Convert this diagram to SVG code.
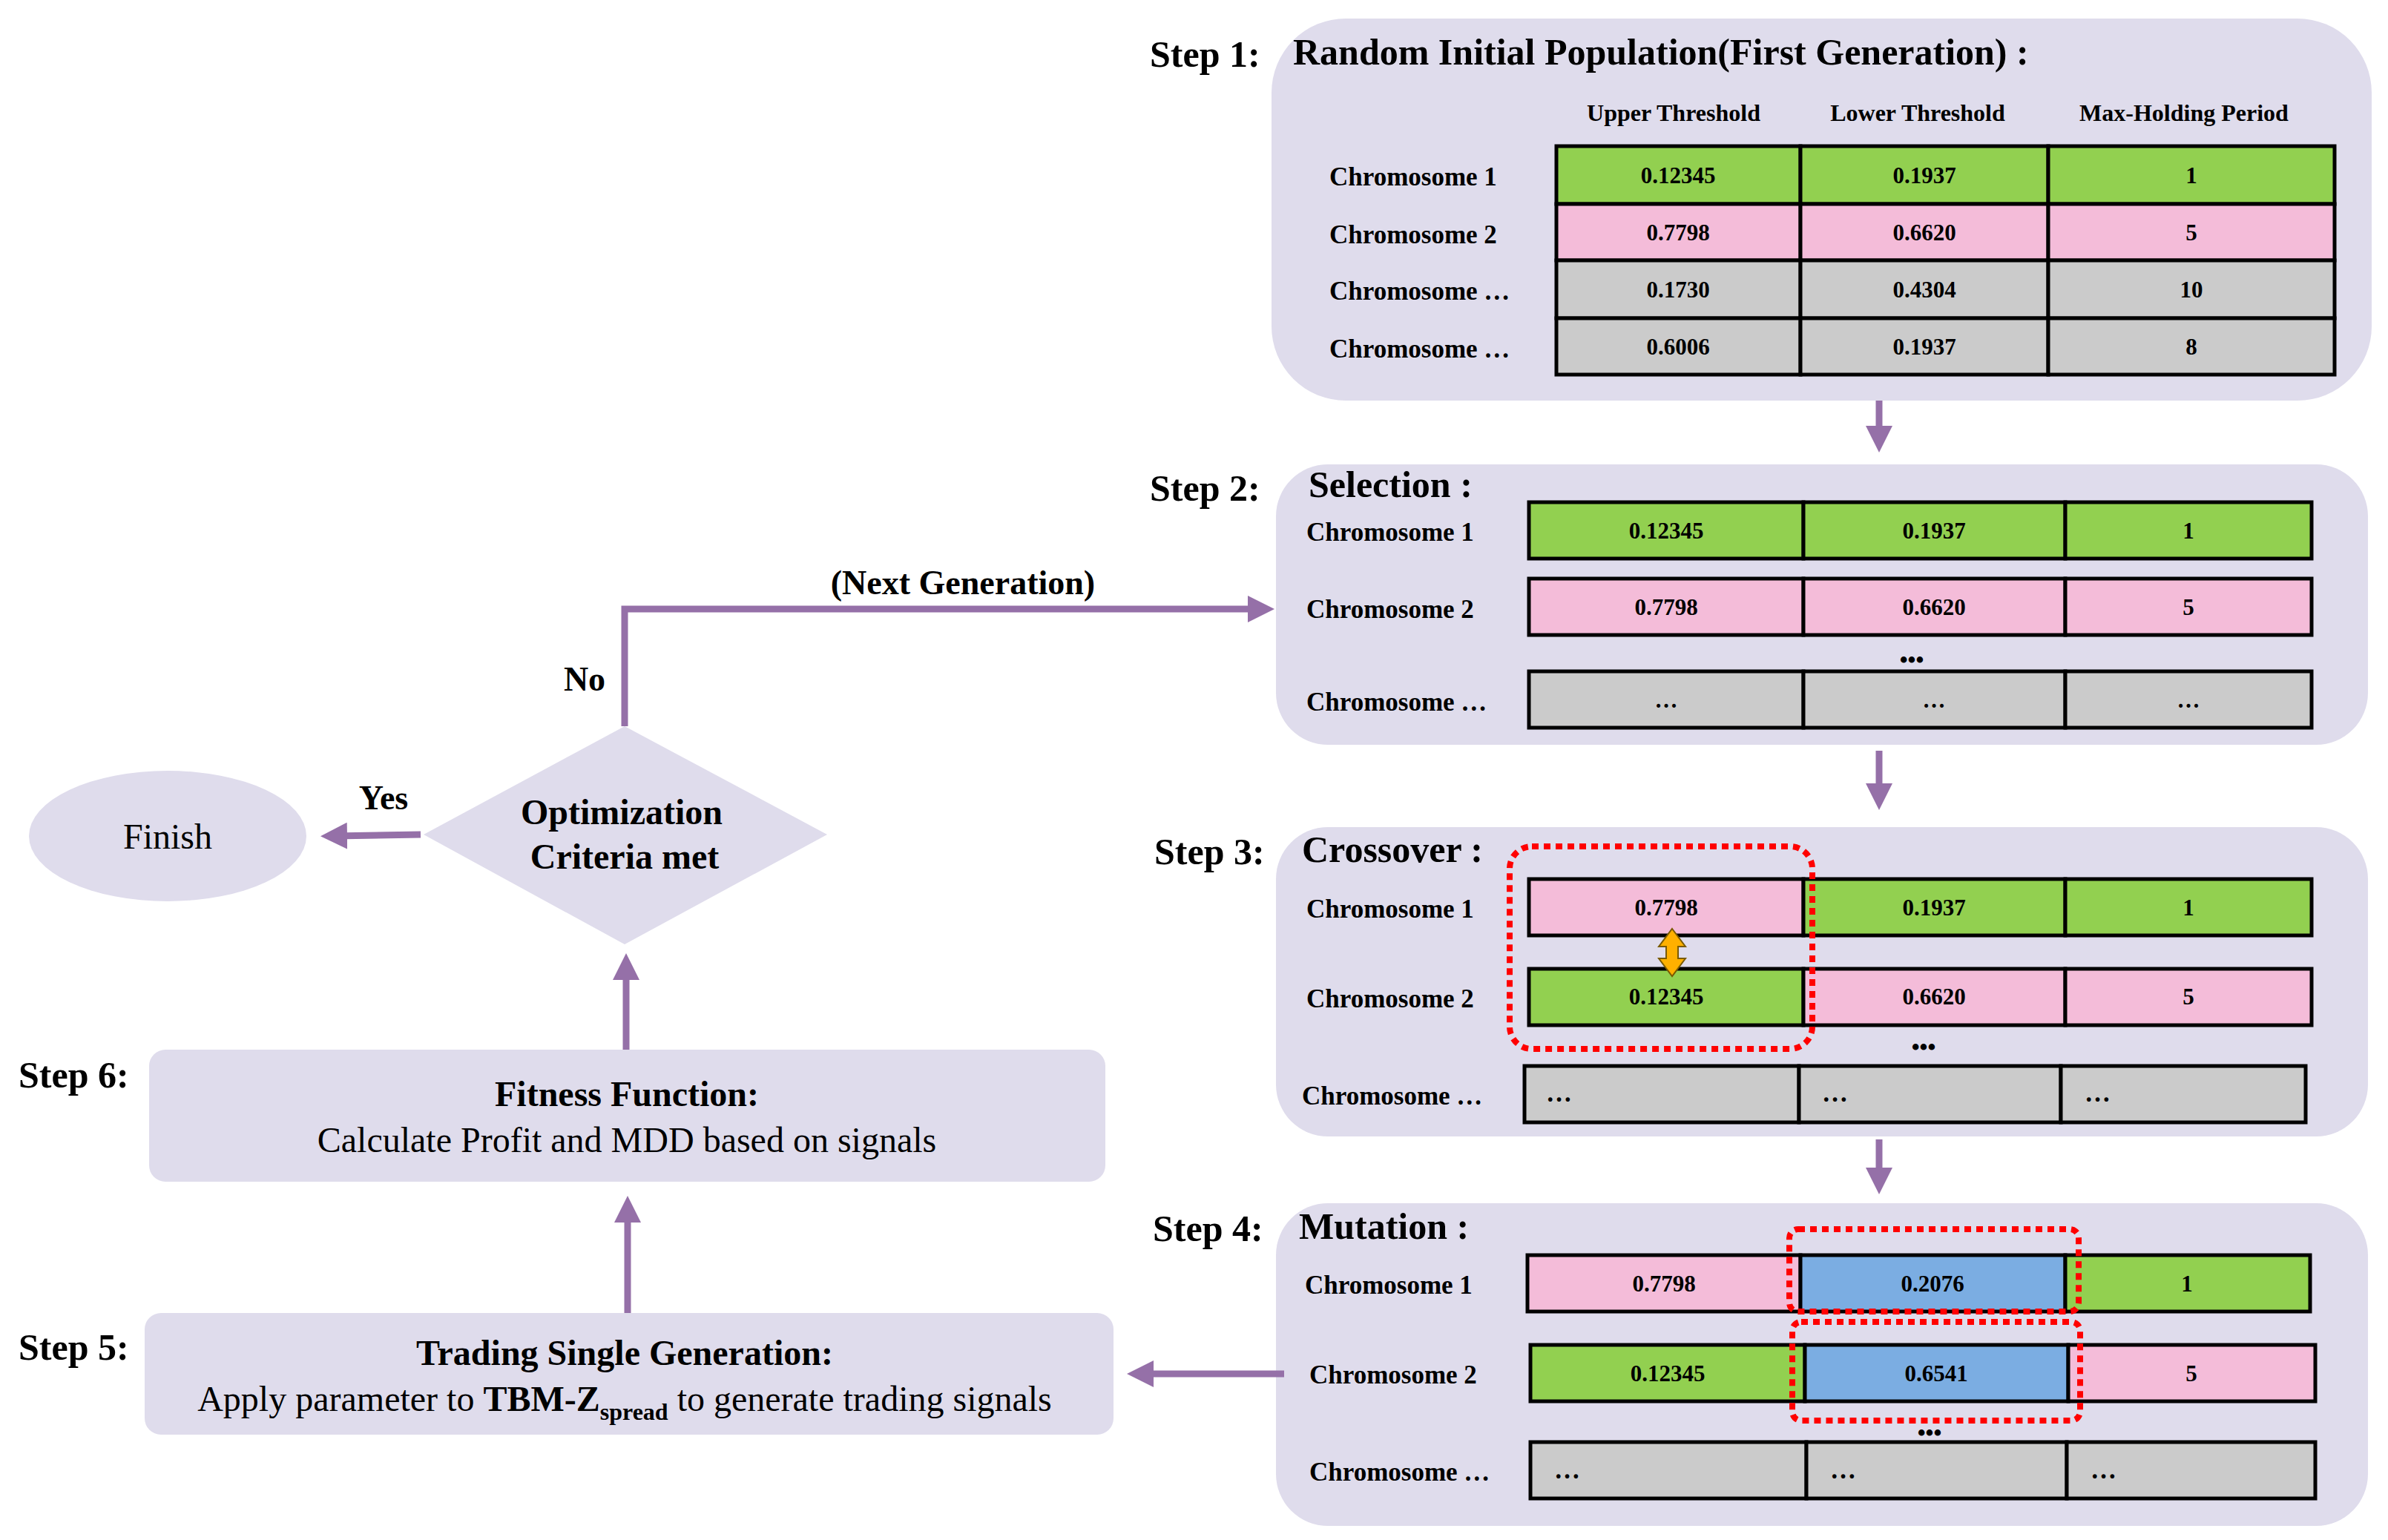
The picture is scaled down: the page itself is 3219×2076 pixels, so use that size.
<svg xmlns="http://www.w3.org/2000/svg" width="3219" height="2076" viewBox="0 0 3219 2076">
<style>
text{font-family:"Liberation Serif","Times New Roman",serif;fill:#000}
.b{font-weight:bold}
.step{font-size:50px;font-weight:bold}
.lab{font-size:35px;font-weight:bold}
.hdr{font-size:32px;font-weight:bold;text-anchor:middle}
.val{font-size:31px;font-weight:bold;text-anchor:middle}
.panel{fill:#dfdcec}
.g{fill:#92d050;stroke:#000;stroke-width:5}
.p{fill:#f4bcd9;stroke:#000;stroke-width:5}
.y{fill:#cbcbcb;stroke:#000;stroke-width:5}
.u{fill:#7badE2;stroke:#000;stroke-width:5}
.red{fill:none;stroke:#ff0000;stroke-width:8;stroke-dasharray:9 7}
.conn{fill:none;stroke:#9570a8;stroke-width:9}
.big{font-size:48px;text-anchor:middle}
</style>
<defs>
<marker id="ah" markerWidth="4" markerHeight="4" refX="2" refY="2" orient="auto" markerUnits="strokeWidth"><path d="M0,0 L4,2 L0,4 Z" fill="#9570a8"/></marker>
</defs>

<g id="step1">
<rect class="panel" x="1714" y="25" width="1483" height="515" rx="100"/>
<text class="step" x="1550" y="90">Step 1:</text>
<text class="step" x="1743" y="87" font-size="48">Random Initial Population(First Generation) :</text>
<text class="hdr" x="2256" y="163">Upper Threshold</text>
<text class="hdr" x="2585" y="163">Lower Threshold</text>
<text class="hdr" x="2944" y="163">Max-Holding Period</text>
<rect class="g" x="2098" y="197" width="329" height="78"/><rect class="g" x="2427" y="197" width="334" height="78"/><rect class="g" x="2761" y="197" width="386" height="78"/>
<rect class="p" x="2098" y="275" width="329" height="76"/><rect class="p" x="2427" y="275" width="334" height="76"/><rect class="p" x="2761" y="275" width="386" height="76"/>
<rect class="y" x="2098" y="351" width="329" height="78"/><rect class="y" x="2427" y="351" width="334" height="78"/><rect class="y" x="2761" y="351" width="386" height="78"/>
<rect class="y" x="2098" y="429" width="329" height="76"/><rect class="y" x="2427" y="429" width="334" height="76"/><rect class="y" x="2761" y="429" width="386" height="76"/>
<text class="lab" x="1792" y="250">Chromosome 1</text>
<text class="lab" x="1792" y="328">Chromosome 2</text>
<text class="lab" x="1792" y="404">Chromosome …</text>
<text class="lab" x="1792" y="482">Chromosome …</text>
<text class="val" x="2262" y="247">0.12345</text><text class="val" x="2594" y="247">0.1937</text><text class="val" x="2954" y="247">1</text>
<text class="val" x="2262" y="324">0.7798</text><text class="val" x="2594" y="324">0.6620</text><text class="val" x="2954" y="324">5</text>
<text class="val" x="2262" y="401">0.1730</text><text class="val" x="2594" y="401">0.4304</text><text class="val" x="2954" y="401">10</text>
<text class="val" x="2262" y="478">0.6006</text><text class="val" x="2594" y="478">0.1937</text><text class="val" x="2954" y="478">8</text>
</g>

<g id="step2">
<rect class="panel" x="1720" y="626" width="1472" height="378" rx="70"/>
<text class="step" x="1550" y="675">Step 2:</text>
<text class="step" x="1764" y="670" font-size="48">Selection :</text>
<rect class="g" x="2061" y="677" width="370" height="76"/><rect class="g" x="2431" y="677" width="353" height="76"/><rect class="g" x="2784" y="677" width="332" height="76"/>
<rect class="p" x="2061" y="780" width="370" height="76"/><rect class="p" x="2431" y="780" width="353" height="76"/><rect class="p" x="2784" y="780" width="332" height="76"/>
<rect class="y" x="2061" y="905" width="370" height="76"/><rect class="y" x="2431" y="905" width="353" height="76"/><rect class="y" x="2784" y="905" width="332" height="76"/>
<text class="lab" x="1761" y="729">Chromosome 1</text>
<text class="lab" x="1761" y="833">Chromosome 2</text>
<text class="lab" x="1761" y="958">Chromosome …</text>
<text class="val" x="2246" y="726">0.12345</text><text class="val" x="2607" y="726">0.1937</text><text class="val" x="2950" y="726">1</text>
<text class="val" x="2246" y="829">0.7798</text><text class="val" x="2607" y="829">0.6620</text><text class="val" x="2950" y="829">5</text>
<text class="val" x="2246" y="954">…</text><text class="val" x="2607" y="954">…</text><text class="val" x="2950" y="954">…</text>
<text class="val" x="2577" y="900" font-size="44">•••</text>
</g>

<g id="step3">
<rect class="panel" x="1720" y="1115" width="1472" height="417" rx="70"/>
<text class="step" x="1556" y="1165">Step 3:</text>
<text class="step" x="1755" y="1162" font-size="48">Crossover :</text>
<rect class="p" x="2061" y="1185" width="370" height="76"/><rect class="g" x="2431" y="1185" width="353" height="76"/><rect class="g" x="2784" y="1185" width="332" height="76"/>
<rect class="g" x="2061" y="1306" width="370" height="76"/><rect class="p" x="2431" y="1306" width="353" height="76"/><rect class="p" x="2784" y="1306" width="332" height="76"/>
<rect class="y" x="2055" y="1437" width="370" height="76"/><rect class="y" x="2425" y="1437" width="353" height="76"/><rect class="y" x="2778" y="1437" width="330" height="76"/>
<text class="lab" x="1761" y="1237">Chromosome 1</text>
<text class="lab" x="1761" y="1358">Chromosome 2</text>
<text class="lab" x="1755" y="1489">Chromosome …</text>
<text class="val" x="2246" y="1234">0.7798</text><text class="val" x="2607" y="1234">0.1937</text><text class="val" x="2950" y="1234">1</text>
<text class="val" x="2246" y="1354">0.12345</text><text class="val" x="2607" y="1354">0.6620</text><text class="val" x="2950" y="1354">5</text>
<text class="lab" x="2084" y="1485">…</text><text class="lab" x="2456" y="1485">…</text><text class="lab" x="2810" y="1485">…</text>
<text class="val" x="2593" y="1422" font-size="44">•••</text>
<rect class="red" x="2035" y="1141" width="408" height="273" rx="30"/>
<path d="M2254,1252 L2272,1276 L2262,1276 L2262,1292 L2272,1292 L2254,1316 L2236,1292 L2246,1292 L2246,1276 L2236,1276 Z" fill="#ffb000" stroke="#7a5a00" stroke-width="2"/>
</g>

<g id="step4">
<rect class="panel" x="1720" y="1622" width="1472" height="435" rx="70"/>
<text class="step" x="1554" y="1673">Step 4:</text>
<text class="step" x="1751" y="1670" font-size="48">Mutation :</text>
<rect class="p" x="2059" y="1692" width="368" height="76"/><rect class="u" x="2427" y="1692" width="357" height="76"/><rect class="g" x="2784" y="1692" width="330" height="76"/>
<rect class="g" x="2063" y="1813" width="370" height="76"/><rect class="u" x="2433" y="1813" width="355" height="76"/><rect class="p" x="2788" y="1813" width="333" height="76"/>
<rect class="y" x="2063" y="1944" width="372" height="76"/><rect class="y" x="2435" y="1944" width="351" height="76"/><rect class="y" x="2786" y="1944" width="335" height="76"/>
<text class="lab" x="1759" y="1744">Chromosome 1</text>
<text class="lab" x="1765" y="1865">Chromosome 2</text>
<text class="lab" x="1765" y="1996">Chromosome …</text>
<text class="val" x="2243" y="1741">0.7798</text><text class="val" x="2605" y="1741">0.2076</text><text class="val" x="2948" y="1741">1</text>
<text class="val" x="2248" y="1862">0.12345</text><text class="val" x="2610" y="1862">0.6541</text><text class="val" x="2954" y="1862">5</text>
<text class="lab" x="2095" y="1993">…</text><text class="lab" x="2467" y="1993">…</text><text class="lab" x="2818" y="1993">…</text>
<text class="val" x="2601" y="1942" font-size="44">•••</text>
<rect class="red" x="2412" y="1657" width="390" height="111" rx="12"/>
<rect class="red" x="2416" y="1782" width="388" height="133" rx="12"/>
</g>

<g id="step5">
<rect class="panel" x="195" y="1770" width="1306" height="164" rx="22"/>
<text class="step" x="25" y="1833">Step 5:</text>
<text class="big b" x="842" y="1840">Trading Single Generation:</text>
<text class="big" x="842" y="1902">Apply parameter to <tspan class="b">TBM-Z</tspan><tspan class="b" font-size="32" dy="12">spread</tspan><tspan dy="-12"> to generate trading signals</tspan></text>
</g>

<g id="step6">
<rect class="panel" x="201" y="1415" width="1289" height="178" rx="22"/>
<text class="step" x="25" y="1466">Step 6:</text>
<text class="big b" x="845" y="1491">Fitness Function:</text>
<text class="big" x="845" y="1553">Calculate Profit and MDD based on signals</text>
</g>

<g id="decision">
<polygon class="panel" points="842,979 1115,1125 842,1273 571,1125"/>
<text class="big b" x="838" y="1111">Optimization</text>
<text class="big b" x="842" y="1171">Criteria met</text>
</g>

<g id="finish">
<ellipse class="panel" cx="226" cy="1127" rx="187" ry="88"/>
<text class="big" x="226" y="1144">Finish</text>
</g>

<g id="connectors">
<line class="conn" x1="2533" y1="540" x2="2533" y2="592" marker-end="url(#ah)"/>
<line class="conn" x1="2533" y1="1012" x2="2533" y2="1074" marker-end="url(#ah)"/>
<line class="conn" x1="2533" y1="1536" x2="2533" y2="1592" marker-end="url(#ah)"/>
<line class="conn" x1="1731" y1="1852" x2="1537" y2="1852" marker-end="url(#ah)"/>
<line class="conn" x1="846" y1="1770" x2="846" y2="1630" marker-end="url(#ah)"/>
<line class="conn" x1="844" y1="1415" x2="844" y2="1303" marker-end="url(#ah)"/>
<line class="conn" x1="567" y1="1125" x2="450" y2="1127" marker-end="url(#ah)"/>
<polyline class="conn" points="842,979 842,821 1700,821" marker-end="url(#ah)"/>
<text class="b" font-size="46" x="517" y="1091" text-anchor="middle">Yes</text>
<text class="b" font-size="46" x="788" y="931" text-anchor="middle">No</text>
<text class="b" font-size="46" x="1298" y="801" text-anchor="middle">(Next Generation)</text>
</g>
</svg>
